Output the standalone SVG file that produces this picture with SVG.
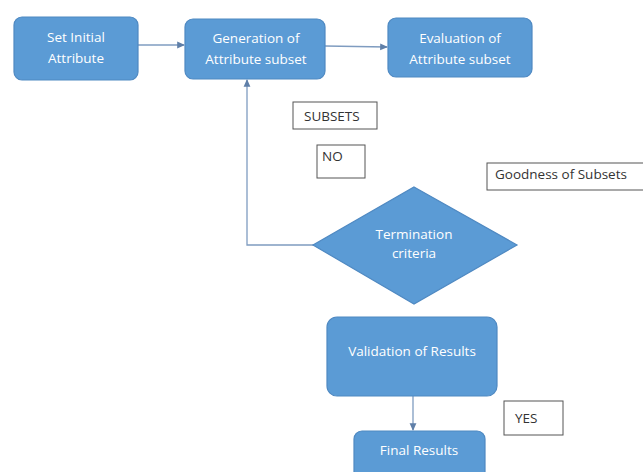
<svg xmlns="http://www.w3.org/2000/svg" width="643" height="472" viewBox="0 0 643 472">
<defs>
<style>
.node{fill:#5b9bd5;stroke:#4f89c2;stroke-width:1.2}
.t{font-family:"Open Sans","Liberation Sans",sans-serif;font-size:13.5px;fill:#ffffff;text-anchor:middle}
.lbl{fill:#ffffff;stroke:#555555;stroke-width:1}
.lt{font-family:"Open Sans","Liberation Sans",sans-serif;font-size:13.5px;fill:#333333}
.conn{fill:none;stroke:#7f9cc0;stroke-width:1.3}
</style>
<marker id="ah" viewBox="0 0 8 8" refX="7" refY="4" markerWidth="6" markerHeight="6" orient="auto">
<path d="M0,0.5 L8,4 L0,7.5 Z" fill="#5f7fa8"/>
</marker>
</defs>
<rect width="643" height="472" fill="#ffffff"/>
<g id="connectors">
<line class="conn" x1="138" y1="45" x2="184" y2="45" marker-end="url(#ah)"/>
<line class="conn" x1="325" y1="46" x2="387" y2="47" marker-end="url(#ah)"/>
<polyline class="conn" points="314,245 247,245 247,80" marker-end="url(#ah)"/>
<line class="conn" x1="413" y1="396" x2="413" y2="430" marker-end="url(#ah)"/>
</g>
<g id="set-initial">
<rect class="node" x="14" y="17" width="124" height="63" rx="8"/>
<text class="t" x="76" y="42">Set Initial</text>
<text class="t" x="76" y="63">Attribute</text>
</g>
<g id="generation">
<rect class="node" x="185" y="19" width="140" height="60" rx="8"/>
<text class="t" x="256" y="43">Generation of</text>
<text class="t" x="256" y="64">Attribute subset</text>
</g>
<g id="evaluation">
<rect class="node" x="388" y="18" width="144" height="59" rx="8"/>
<text class="t" x="460" y="43">Evaluation of</text>
<text class="t" x="460" y="64">Attribute subset</text>
</g>
<g id="subsets-label">
<rect class="lbl" x="293" y="102" width="84" height="27"/>
<text class="lt" x="304" y="121">SUBSETS</text>
</g>
<g id="no-label">
<rect class="lbl" x="317" y="145" width="48" height="33"/>
<text class="lt" x="322" y="161">NO</text>
</g>
<g id="goodness-label">
<rect class="lbl" x="487" y="163" width="160" height="27"/>
<text class="lt" x="495" y="179">Goodness of Subsets</text>
</g>
<g id="termination">
<polygon class="node" points="414,187 517,245 414,304 313,245"/>
<text class="t" x="414" y="239">Termination</text>
<text class="t" x="414" y="258">criteria</text>
</g>
<g id="validation">
<rect class="node" x="327" y="317" width="170" height="79" rx="10"/>
<text class="t" x="412" y="356">Validation of Results</text>
</g>
<g id="yes-label">
<rect class="lbl" x="504" y="401" width="59" height="34"/>
<text class="lt" x="515" y="423">YES</text>
</g>
<g id="final">
<rect class="node" x="354" y="431" width="131" height="50" rx="8"/>
<text class="t" x="419" y="455">Final Results</text>
</g>
</svg>
